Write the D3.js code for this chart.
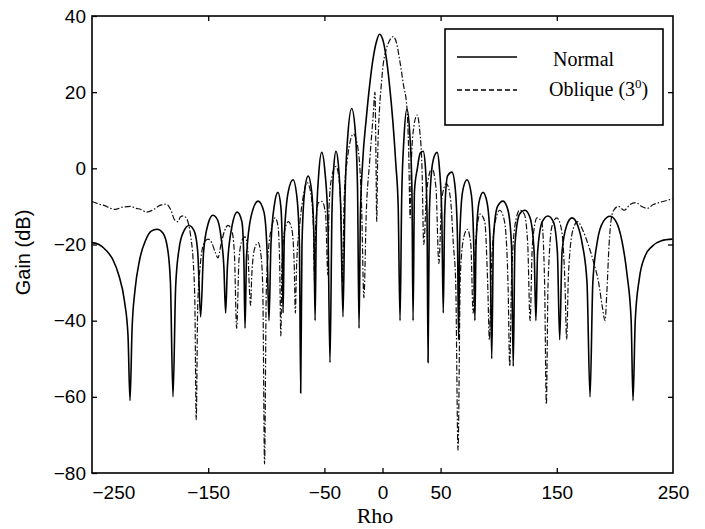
<!DOCTYPE html>
<html lang="en">
<head>
<meta charset="UTF-8">
<script src="https://d3js.org/d3.v7.min.js"></script>
<title>Gain vs Rho</title>
<style>
  body { margin: 0; background: #fff; }
</style>
</head>
<body>
<div id="canvas"></div>
<script>
// ---- data (rho, gain dB) ----
const xTicks = [-250, -150, -50, 0, 50, 150, 250]
const yTicks = [40, 20, 0, -20, -40, -60, -80]
const seriesNames = ["Normal", "Oblique (3", "0", ")"]

const normal = [
  [-250,-19.5],[-244,-20],[-238,-21.5],[-232,-24],[-227,-28],[-222,-35],[-219,-44],[-217.3,-61],[-215.5,-42],[-213,-32],
  [-209,-24],[-204,-19],[-199,-16.5],[-194,-16],[-189,-17],[-185,-21],[-182.5,-30],[-180.3,-60],[-178,-31],[-175,-21],
  [-171,-16.5],[-166.5,-15],[-162,-16.5],[-159,-22],[-156.5,-39],[-154,-22],[-150,-14.5],[-146,-12.3],[-142,-13.5],[-139,-18],
  [-136.5,-26],[-135,-38],[-133.5,-26],[-130,-16],[-125,-11.5],[-121,-14],[-119.3,-24],[-118.3,-42],[-117,-23],[-113,-12.5],
  [-107,-8.6],[-102,-11.5],[-99.3,-22],[-97.7,-40],[-96,-20],[-93,-9.5],[-90,-6.3],[-87.5,-10],[-86.3,-20],[-85.6,-38],
  [-84.5,-18],[-81,-6],[-77,-3],[-73.5,-8],[-71.5,-20],[-70.4,-59],[-69.3,-20],[-67,-6],[-64,-2],[-61,-6],
  [-59,-18],[-58,-40],[-57,-16],[-55,-2],[-52.3,4.2],[-49.5,-1],[-47,-14],[-45.2,-51],[-43.5,-12],[-42,0],
  [-40,4.5],[-38,1],[-36,-10],[-34,-39],[-32.3,-8],[-30,8],[-26.5,15.7],[-23.5,10],[-21.5,-5],[-20.2,-42],
  [-19,-12],[-17,2],[-14,13],[-11,22],[-8,29],[-5,33.5],[-2.6,35.2],[0,34],[3,29.5],[6,22],
  [9,12],[11.5,1],[13.5,-10],[15.1,-40],[16.5,-8],[18.5,8],[21,15.5],[23.5,9],[25.3,-5],[26.3,-40],
  [27.5,-6],[30,0],[32.5,4],[35,4.5],[37,0],[38.3,-12],[39.2,-51],[40.3,-12],[42.5,0],[45,3.5],
  [47,4.2],[49,0],[51,-12],[52.3,-38],[53.5,-12],[56,-2],[59.8,-1],[62.5,-5],[64.5,-18],[65.5,-45],
  [66.5,-18],[69,-6],[72.7,-3],[76.5,-7],[78.5,-20],[79.5,-40],[80.5,-20],[83,-9],[86.5,-6.3],[90,-9],
  [92.5,-18],[94,-50],[95.5,-18],[99,-10],[103.7,-8.6],[108,-11],[111,-20],[112.5,-52],[114,-20],[118,-12],
  [122.6,-11],[127,-13],[130.5,-22],[132,-40],[133.5,-22],[137.5,-14],[142.4,-12.5],[147,-14],[150.5,-22],[152.5,-45],
  [154.5,-22],[158.5,-15],[163.1,-13],[168,-15],[172,-20],[176,-30],[178.6,-60],[181,-30],[185,-19],[190,-14],
  [195.8,-12.6],[201,-14],[206,-19],[210.5,-28],[214,-40],[215.6,-61],[217.5,-40],[221,-29],[226,-23],[232,-20.5],
  [240,-19],[249.5,-18.6]
]

const oblique = [
  [-250,-8.7],[-245,-9.3],[-239,-9.8],[-234,-10.5],[-230,-10.8],[-224,-10.2],[-217,-10],[-212,-10.5],[-208,-10.8],[-203,-11.5],
  [-198,-11],[-192,-9.8],[-186,-9.4],[-182,-11],[-179,-13.5],[-176,-14],[-174,-12.8],[-171.5,-12.5],[-169,-13],[-167,-14.5],
  [-165,-18],[-163,-24],[-161.5,-35],[-160.3,-66],[-159,-36],[-157,-26],[-154,-20],[-150.2,-18.6],[-147,-19.5],[-144,-22],
  [-141.6,-23.5],[-139,-20],[-136,-16.5],[-133,-15],[-130,-16],[-127.5,-22],[-125.5,-42],[-123.5,-24],[-121,-19],[-118.3,-18],
  [-116,-21],[-114.5,-32],[-113.5,-36],[-112.5,-28],[-110,-21],[-107,-19.5],[-104.5,-23],[-103,-32],[-101.5,-77.6],[-100,-32],
  [-98,-21],[-95,-15],[-92.5,-13],[-90,-15],[-88.5,-25],[-87.5,-44],[-86.5,-25],[-84,-16],[-81,-14],[-78,-16],
  [-76,-25],[-75,-38],[-74,-26],[-71,-14],[-68,-7],[-65,-3.7],[-62,-6],[-59.5,-15],[-58.5,-30],[-57.5,-15],
  [-55,-9],[-52,-8.7],[-49,-12],[-47,-28],[-46,-10],[-43.5,-2],[-40,0.5],[-37,-4],[-35.5,-15],[-34.5,-30],
  [-33,-8],[-30,3],[-25,9],[-21,5],[-18,-10],[-16,-34],[-14,-12],[-11,2],[-8,14],[-6.5,20],
  [-5.6,2],[-5,-14],[-4.2,2],[-2.5,16],[-1,22],[0.5,27],[3,31],[6,33.5],[9.2,34.6],[12,33],[15,28],
  [18,22],[21,16],[22.5,5],[23.8,-13],[25,3],[27,11],[29.8,14],[32,10],[34,0],[35.5,-20],
  [38,-6],[42.5,0],[46,-5],[48.5,-25],[51,-8],[55,-4],[58.5,-8],[61,-20],[63,-30],[65,-74],
  [67,-28],[70,-18],[73,-16],[76,-20],[78,-38],[80,-20],[84,-12],[88,-14],[90.5,-30],[92,-45],
  [93.5,-28],[97,-14],[101,-11],[105,-14],[108,-30],[109.5,-52],[111,-30],[114,-15],[118,-11],[122,-12],
  [125,-20],[127,-40],[129,-20],[133,-13],[137,-14],[139.5,-30],[141,-62],[142.5,-30],[146,-15],[150,-13],
  [154,-16],[157,-30],[158.5,-45],[160,-28],[164,-16],[168,-14],[172,-16],[177,-20],[182,-25],[186,-30],
  [189,-36],[191.5,-40],[193,-33],[195,-20],[197,-13],[199,-11],[203,-10],[208,-11],[213,-9.5],[218,-9],
  [223,-10],[228,-10.5],[233,-9.5],[238,-9],[244,-8.5],[249.5,-8]
]

// ---- layout ----
const W = 705, H = 529
const plot = {left: 92, right: 673, top: 16, bottom: 473}

const svg = d3.select("#canvas").append("svg").attr("width", W).attr("height", H)
svg.append("rect").attr("width", W).attr("height", H).attr("fill", "#fff")

const x = d3.scaleLinear().domain([-250, 250]).range([plot.left, plot.right])
const y = d3.scaleLinear().domain([-80, 40]).range([plot.bottom, plot.top])

svg.append("clipPath").attr("id", "clip")
   .append("rect").attr("x", plot.left).attr("y", plot.top)
   .attr("width", plot.right - plot.left).attr("height", plot.bottom - plot.top)

const line = d3.line().x(d => x(d[0])).y(d => y(d[1])).curve(d3.curveMonotoneX)

const curves = svg.append("g").attr("clip-path", "url(#clip)")
curves.append("path").datum(oblique)
      .attr("fill", "none").attr("stroke", "#111").attr("stroke-width", 1.2)
      .attr("stroke-dasharray", "6,2,1.5,2")
      .attr("d", line)
curves.append("path").datum(normal)
      .attr("fill", "none").attr("stroke", "#000").attr("stroke-width", 1.6)
      .attr("d", line)

// ---- axes ----
const tickFont = "'Liberation Sans', Arial, sans-serif"
const gx = svg.append("g").attr("transform", `translate(0,${plot.bottom})`)
  .call(d3.axisBottom(x).tickValues(xTicks).tickFormat(d3.format("d"))
        .tickSizeInner(-5).tickSizeOuter(0).tickPadding(13))
const gy = svg.append("g").attr("transform", `translate(${plot.left},0)`)
  .call(d3.axisLeft(y).tickValues(yTicks).tickSizeInner(-5).tickSizeOuter(0).tickPadding(6))
const gxt = svg.append("g").attr("transform", `translate(0,${plot.top})`)
  .call(d3.axisTop(x).tickValues([-150, -50, 50, 150]).tickSizeInner(-5).tickSizeOuter(0).tickFormat(""))
const gyr = svg.append("g").attr("transform", `translate(${plot.right},0)`)
  .call(d3.axisRight(y).tickValues([20, 0, -20, -40, -60]).tickSizeInner(-5).tickSizeOuter(0).tickFormat(""))

;[gx, gy, gxt, gyr].forEach(g => {
  g.select(".domain").remove()
  g.selectAll(".tick line").attr("stroke", "#000").attr("stroke-width", 1.3)
  g.selectAll(".tick text").attr("fill", "#000").style("font-family", tickFont).style("font-size", "19px")
})
gx.selectAll(".tick text").filter(d => d === -250).attr("text-anchor", "start")
gx.selectAll(".tick line").filter(d => d === -250 || d === 250).remove()

// frame
svg.append("rect").attr("x", plot.left).attr("y", plot.top)
   .attr("width", plot.right - plot.left).attr("height", plot.bottom - plot.top)
   .attr("fill", "none").attr("stroke", "#000").attr("stroke-width", 1.6)

// axis labels
svg.append("text")
   .attr("transform", `translate(30,${(plot.top + plot.bottom) / 2 + 8}) rotate(-90)`)
   .attr("text-anchor", "middle")
   .style("font-family", tickFont).style("font-size", "20px")
   .text("Gain (dB)")
svg.append("text")
   .attr("x", 375).attr("y", 523).attr("text-anchor", "middle")
   .style("font-family", "'Liberation Serif', 'Times New Roman', serif").style("font-size", "22px")
   .text("Rho")

// ---- legend ----
const serif = "'Liberation Serif', 'Times New Roman', serif"
const lg = svg.append("g")
lg.append("rect").attr("x", 445).attr("y", 29).attr("width", 218).attr("height", 96)
  .attr("fill", "#fff").attr("stroke", "#000").attr("stroke-width", 1.6)
lg.append("line").attr("x1", 457).attr("x2", 517).attr("y1", 57).attr("y2", 57)
  .attr("stroke", "#000").attr("stroke-width", 1.4)
lg.append("line").attr("x1", 457).attr("x2", 517).attr("y1", 90).attr("y2", 90)
  .attr("stroke", "#000").attr("stroke-width", 1.4).attr("stroke-dasharray", "5,3")
lg.append("text").attr("x", 553).attr("y", 66)
  .style("font-family", serif).style("font-size", "20px")
  .text(seriesNames[0])
const ob = lg.append("text").attr("x", 549).attr("y", 96)
  .style("font-family", serif).style("font-size", "20px")
ob.append("tspan").text(seriesNames[1])
ob.append("tspan").attr("dy", -8).style("font-size", "13px").text(seriesNames[2])
ob.append("tspan").attr("dy", 8).text(seriesNames[3])
</script>
</body>
</html>
